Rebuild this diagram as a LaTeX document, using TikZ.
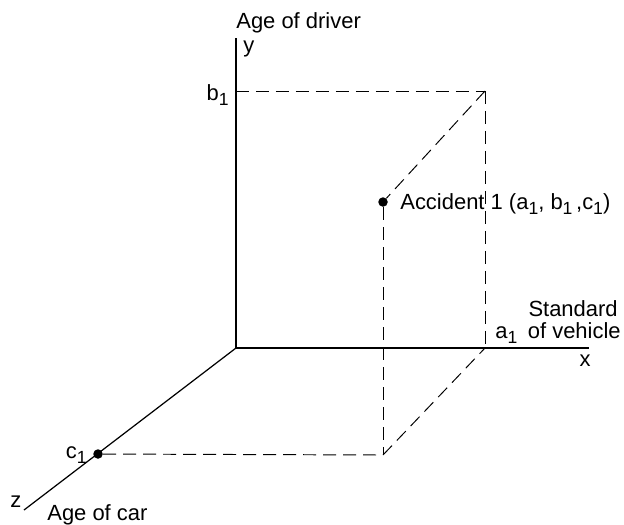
\documentclass[tikz,border=0pt]{standalone}
\usepackage{fontspec}
\setmainfont{Liberation Sans}
\newcommand{\sub}[1]{\raisebox{-0.45ex}{\fontsize{10}{11}\selectfont #1}}
\begin{document}
\begin{tikzpicture}[x=0.02cm, y=-0.02cm, font=\fontsize{12.5}{14}\selectfont,
  axis/.style={line width=0.7pt},
  guide/.style={line width=0.55pt, dash pattern=on 0.26cm off 0.14cm},
  dot/.style={circle, fill=black, inner sep=0pt, minimum size=0.19cm},
  lbl/.style={inner sep=0pt}]
\useasboundingbox (0,0) rectangle (624,524);

% Axes (origin, ends)
\coordinate (O) at (236,348);
\coordinate (yEnd) at (236,38);
\coordinate (xEnd) at (589,348);
\coordinate (zEnd) at (24,510);

\draw[axis] (O) -- (yEnd);
\draw[axis] (O) -- (xEnd);
\draw[axis] (O) -- (zEnd);

% Axis labels
\node[lbl, anchor=base west] (yName) at (236,29) {Age of driver};
\node[lbl, anchor=base west] (yLbl) at (243,52) {y};
\node[lbl, anchor=base east] (xName1) at (618,316) {Standard};
\node[lbl, anchor=base east] (xName2) at (621,338) {of vehicle};
\node[lbl, anchor=base] (xLbl) at (585,366) {x};
\node[lbl, anchor=base west] (zLbl) at (10,507) {z};
\node[lbl, anchor=base west] (zName) at (47,520) {Age of car};

% Projection corners
\coordinate (yB) at (236,91);
\coordinate (AB) at (485,91);
\coordinate (xA) at (485,348);
\coordinate (PF) at (383,455);

% Points (accident and c1 on z axis)
\node[dot] (P) at (383,202) {};
\node[dot] (C1) at (98,454) {};

% Dashed guides
\draw[guide] (yB) -- (AB);
\draw[guide] (AB) -- (xA);
\draw[guide] (AB) -- (P);
\draw[guide] (P) -- (PF);
\draw[guide] (C1) -- (PF);
\draw[guide] (PF) -- (xA);

% Value labels
\node[lbl, anchor=base east] (bLbl) at (229,100) {b\sub{1}};
\node[lbl, anchor=base west] (aLbl) at (495,338) {a\sub{1}};
\node[lbl, anchor=base east] (cLbl) at (87,458) {c\sub{1}};
\node[lbl, anchor=base west] (pLbl) at (400,209)
  {Accident 1 (a\sub{1}, b\sub{1}\,,c\sub{1})};

\end{tikzpicture}
\end{document}
